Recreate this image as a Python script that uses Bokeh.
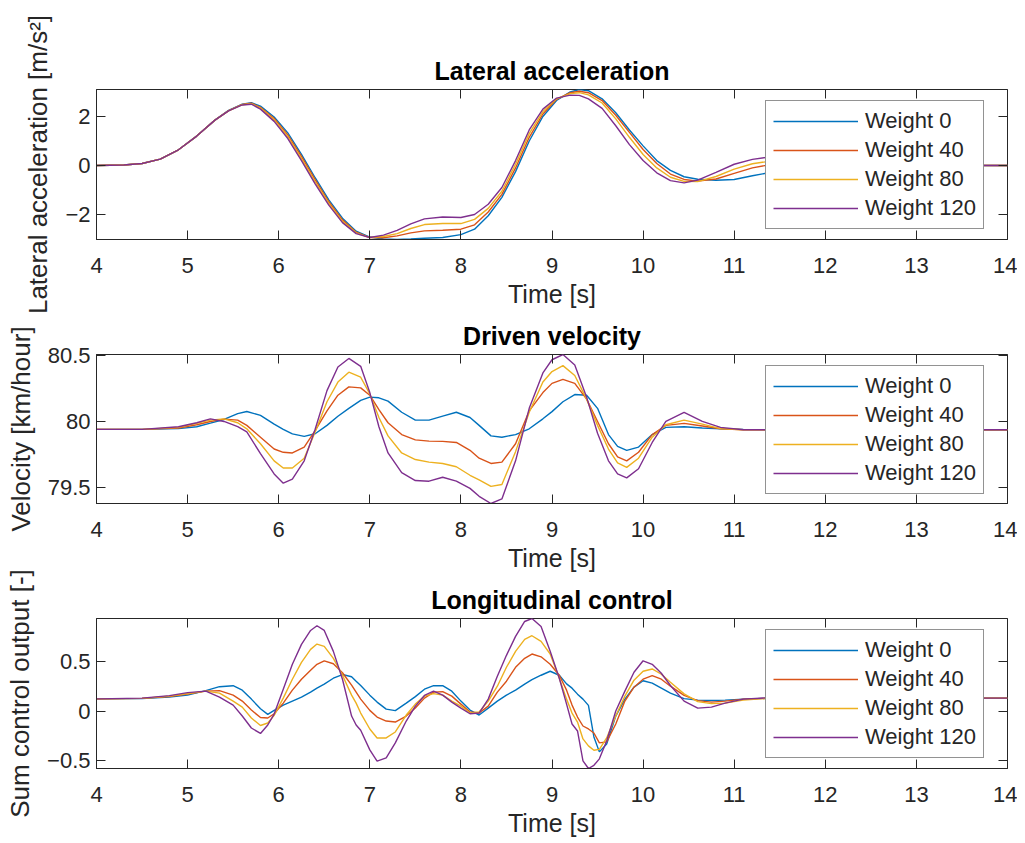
from bokeh.plotting import figure
from bokeh.layouts import column
from bokeh.models import LinearAxis, Legend, LegendItem, FixedTicker, Range1d, ColumnDataSource
from bokeh.embed import file_html
from bokeh.resources import INLINE

# ---------------- data ----------------
labels = ["Weight 0", "Weight 40", "Weight 80", "Weight 120"]
colors = ["#0072BD", "#D95319", "#EDB120", "#7E2F8E"]
x_ticks = [4, 5, 6, 7, 8, 9, 10, 11, 12, 13, 14]

# Lateral acceleration [m/s^2]
t1 = [4.0, 4.3, 4.5, 4.7, 4.9, 5.1, 5.3, 5.45, 5.6, 5.7, 5.8, 5.95, 6.1, 6.25, 6.4, 6.55,
      6.7, 6.85, 7.0, 7.15, 7.3, 7.45, 7.6, 7.8, 8.0, 8.15, 8.3, 8.45, 8.6, 8.75, 8.9, 9.05,
      9.2, 9.3, 9.4, 9.55, 9.7, 9.85, 10.0, 10.15, 10.3, 10.45, 10.6, 10.8, 11.0, 11.2, 11.4,
      11.7, 12.0, 12.5, 13.0, 14.0]
acc_w0 = [0.0, 0.02, 0.08, 0.26, 0.64, 1.2, 1.85, 2.25, 2.5, 2.56, 2.42, 1.98, 1.33, 0.45, -0.5, -1.4,
          -2.15, -2.68, -2.92, -3.0, -3.02, -3.0, -2.97, -2.94, -2.82, -2.6, -2.05, -1.3, -0.25, 1.0, 2.0, 2.65,
          3.0, 3.1, 3.05, 2.72, 2.15, 1.45, 0.8, 0.2, -0.2, -0.46, -0.56, -0.6, -0.57, -0.42, -0.28,
          -0.12, -0.05, -0.01, 0.0, 0.0]
acc_w40 = [0.0, 0.02, 0.08, 0.26, 0.64, 1.2, 1.85, 2.24, 2.49, 2.54, 2.37, 1.92, 1.25, 0.37, -0.58, -1.48,
           -2.22, -2.72, -2.94, -2.95, -2.87, -2.75, -2.67, -2.64, -2.6, -2.42, -1.9, -1.18, -0.1, 1.15, 2.1, 2.7,
           2.97, 3.03, 2.97, 2.65, 2.05, 1.35, 0.65, 0.08, -0.35, -0.57, -0.64, -0.55, -0.32, -0.1, 0.04,
           0.1, 0.08, 0.03, 0.01, 0.0]
acc_w80 = [0.0, 0.02, 0.08, 0.26, 0.64, 1.2, 1.85, 2.23, 2.48, 2.52, 2.34, 1.86, 1.18, 0.28, -0.67, -1.55,
           -2.28, -2.75, -2.94, -2.9, -2.78, -2.57, -2.41, -2.37, -2.37, -2.2, -1.75, -1.05, 0.05, 1.3, 2.2, 2.72,
           2.93, 2.97, 2.88, 2.55, 1.9, 1.15, 0.45, -0.1, -0.48, -0.65, -0.66, -0.45, -0.15, 0.07, 0.18,
           0.2, 0.14, 0.04, 0.01, 0.0]
acc_w120 = [0.0, 0.02, 0.08, 0.26, 0.64, 1.2, 1.85, 2.23, 2.47, 2.5, 2.3, 1.8, 1.1, 0.2, -0.75, -1.62,
            -2.33, -2.78, -2.94, -2.84, -2.65, -2.38, -2.18, -2.1, -2.12, -2.0, -1.58, -0.9, 0.2, 1.45, 2.3, 2.75,
            2.87, 2.86, 2.72, 2.33, 1.62, 0.85, 0.2, -0.3, -0.62, -0.71, -0.6, -0.28, 0.05, 0.25, 0.35,
            0.33, 0.22, 0.07, 0.01, 0.0]

# Driven velocity [km/hour]
t2 = [4.0, 4.5, 4.9, 5.1, 5.25, 5.4, 5.55, 5.65, 5.8, 5.95, 6.05, 6.15, 6.28, 6.4, 6.53, 6.65,
      6.77, 6.9, 7.0, 7.1, 7.2, 7.35, 7.5, 7.65, 7.8, 7.95, 8.1, 8.2, 8.33, 8.45, 8.6, 8.75,
      8.9, 9.0, 9.12, 9.25, 9.38, 9.5, 9.62, 9.72, 9.82, 9.95, 10.1, 10.25, 10.45, 10.65, 10.85,
      11.1, 11.4, 12.0, 14.0]
vel_w0 = [79.94, 79.94, 79.945, 79.96, 79.987, 80.015, 80.06, 80.076, 80.046, 79.98, 79.94, 79.905, 79.886, 79.906, 79.97, 80.04,
          80.1, 80.16, 80.185, 80.18, 80.155, 80.07, 80.01, 80.01, 80.04, 80.07, 80.03, 79.97, 79.89, 79.88, 79.9, 79.944,
          80.02, 80.075, 80.15, 80.205, 80.2, 80.1, 79.9, 79.81, 79.78, 79.805, 79.9, 79.955, 79.96, 79.95, 79.944,
          79.94, 79.937, 79.937, 79.937]
vel_w40 = [79.94, 79.94, 79.95, 79.975, 80.0, 80.018, 80.01, 79.97, 79.88, 79.79, 79.765, 79.76, 79.805, 79.93, 80.08, 80.2,
           80.263, 80.256, 80.2, 80.09, 79.99, 79.9, 79.86, 79.85, 79.848, 79.84, 79.78, 79.72, 79.68, 79.69, 79.83, 80.08,
           80.22, 80.29, 80.32, 80.29, 80.17, 80.0, 79.83, 79.73, 79.7, 79.765, 79.9, 79.97, 79.985, 79.965, 79.944,
           79.937, 79.937, 79.937, 79.937]
vel_w80 = [79.94, 79.94, 79.955, 79.985, 80.01, 80.02, 79.99, 79.944, 79.83, 79.7, 79.645, 79.645, 79.72, 79.92, 80.15, 80.3,
           80.375, 80.337, 80.21, 80.03, 79.89, 79.76, 79.71, 79.69, 79.68, 79.655, 79.59, 79.555, 79.505, 79.52, 79.77, 80.07,
           80.3, 80.38, 80.425, 80.35, 80.17, 79.97, 79.79, 79.685, 79.65, 79.72, 79.88, 79.975, 80.01, 79.98, 79.945,
           79.937, 79.937, 79.937, 79.937]
vel_w120 = [79.94, 79.94, 79.96, 79.99, 80.02, 80.0, 79.96, 79.92, 79.755, 79.6, 79.53, 79.56, 79.7, 79.94, 80.235, 80.415,
            80.48, 80.42, 80.22, 79.96, 79.76, 79.61, 79.55, 79.545, 79.575, 79.545, 79.49, 79.43, 79.375, 79.41, 79.7, 80.1,
            80.37, 80.47, 80.51, 80.43, 80.185, 79.91, 79.7, 79.6, 79.57, 79.64, 79.84, 80.0, 80.07, 80.0, 79.955,
            79.937, 79.937, 79.937, 79.937]

# Longitudinal control (sum control output [-])
t3 = [4.0, 4.5, 4.8, 5.0, 5.2, 5.35, 5.5, 5.6, 5.7, 5.8, 5.88, 5.95, 6.05, 6.15, 6.25, 6.35, 6.42,
      6.5, 6.6, 6.7, 6.8, 6.85, 6.9, 7.0, 7.08, 7.18, 7.28, 7.4, 7.5, 7.6, 7.7, 7.8, 7.9, 8.0,
      8.1, 8.2, 8.3, 8.4, 8.5, 8.6, 8.7, 8.78, 8.88, 8.98, 9.08, 9.16, 9.22, 9.28, 9.34, 9.4,
      9.46, 9.52, 9.6, 9.7, 9.8, 9.9, 10.0, 10.1, 10.2, 10.3, 10.45, 10.6, 10.75, 10.9, 11.1,
      11.4, 12.0, 14.0]
ctl_w0 = [0.123, 0.125, 0.14, 0.16, 0.205, 0.245, 0.255, 0.21, 0.12, 0.023, -0.033, 0.007, 0.06, 0.1, 0.14, 0.19, 0.23,
          0.27, 0.33, 0.367, 0.345, 0.3, 0.257, 0.16, 0.09, 0.02, 0.005, 0.08, 0.145, 0.22, 0.255, 0.255, 0.2, 0.1,
          0.01, -0.04, 0.03, 0.1, 0.16, 0.21, 0.27, 0.315, 0.36, 0.4, 0.36, 0.273, 0.23, 0.17, 0.12, 0.057,
          -0.26, -0.41, -0.33, -0.05, 0.12, 0.24, 0.305, 0.28, 0.23, 0.18, 0.125, 0.11, 0.106, 0.11, 0.12,
          0.13, 0.13, 0.13]
ctl_w40 = [0.123, 0.128, 0.145, 0.17, 0.2, 0.205, 0.16, 0.1, 0.01, -0.065, -0.07, -0.027, 0.08, 0.21, 0.32, 0.41, 0.47,
           0.505, 0.475, 0.385, 0.26, 0.19, 0.12, 0.007, -0.06, -0.1, -0.11, -0.05, 0.03, 0.13, 0.19, 0.195, 0.15, 0.07,
           -0.01, -0.02, 0.05, 0.19, 0.3, 0.44, 0.53, 0.573, 0.545, 0.47, 0.36, 0.21, 0.06, -0.06, -0.15, -0.18,
           -0.22, -0.32, -0.31, -0.13, 0.1, 0.24, 0.32, 0.357, 0.32, 0.25, 0.157, 0.105, 0.09, 0.1, 0.12,
           0.13, 0.13, 0.13]
ctl_w80 = [0.123, 0.128, 0.15, 0.175, 0.2, 0.18, 0.1, 0.04, -0.07, -0.145, -0.12, -0.043, 0.13, 0.32, 0.49, 0.62, 0.673,
           0.65, 0.53, 0.36, 0.16, 0.08, -0.02, -0.18, -0.27, -0.27, -0.21, -0.04, 0.07, 0.15, 0.175, 0.16, 0.1, 0.05,
           -0.02, -0.01, 0.1, 0.25, 0.44, 0.6, 0.72, 0.757, 0.7, 0.573, 0.33, 0.12, -0.02, -0.11, -0.28, -0.35,
           -0.393, -0.385, -0.27, -0.05, 0.15, 0.31, 0.4, 0.423, 0.37, 0.29, 0.173, 0.095, 0.075, 0.08, 0.11,
           0.13, 0.13, 0.13]
ctl_w120 = [0.123, 0.13, 0.155, 0.185, 0.2, 0.14, 0.06, -0.05, -0.17, -0.225, -0.14, -0.03, 0.22, 0.47, 0.67, 0.81, 0.857,
            0.81, 0.6, 0.32, -0.05, -0.14, -0.193, -0.39, -0.503, -0.47, -0.32, -0.1, 0.05, 0.157, 0.2, 0.16, 0.09, 0.03,
            -0.027, -0.02, 0.12, 0.35, 0.56, 0.75, 0.9, 0.93, 0.85, 0.6, 0.33, 0.07, -0.13, -0.2, -0.5, -0.577,
            -0.545, -0.48, -0.3, 0.0, 0.2, 0.39, 0.505, 0.47, 0.38, 0.257, 0.1, 0.03, 0.04, 0.08, 0.12,
            0.135, 0.13, 0.13]

# ---------------- styling ----------------
FONT = "Liberation Sans"
AXC = "#262626"


def make_panel(title, ylabel, t, series, yr, yticks, height, top, bottom, leg_y, margin_top):
    p = figure(width=1017, height=height, output_backend="svg", toolbar_location=None,
               x_range=Range1d(4, 14), y_range=Range1d(*yr),
               min_border_left=96, min_border_right=10, min_border_top=top, min_border_bottom=bottom)
    if margin_top:
        p.margin = (margin_top, 0, 0, 0)
    p.title.text = title
    p.title.align = "center"
    p.title.text_font = FONT
    p.title.text_font_size = "25px"
    p.title.text_font_style = "bold"
    p.title.text_color = "#000000"
    p.title.standoff = 10
    p.grid.visible = False
    p.outline_line_color = AXC
    p.outline_line_width = 1
    p.background_fill_color = "white"
    p.border_fill_alpha = 0.0

    xa = p.xaxis[0]
    xa.ticker = FixedTicker(ticks=x_ticks)
    xa.axis_label = "Time [s]"
    ya = p.yaxis[0]
    ya.ticker = FixedTicker(ticks=yticks)
    ya.axis_label = ylabel
    for ax in (xa, ya):
        ax.axis_line_color = AXC
        ax.major_tick_line_color = AXC
        ax.major_tick_in = 9
        ax.major_tick_out = 0
        ax.minor_tick_line_color = None
        ax.major_label_text_font = FONT
        ax.major_label_text_font_size = "22px"
        ax.major_label_text_color = AXC
        ax.axis_label_text_font = FONT
        ax.axis_label_text_font_style = "normal"
        ax.axis_label_text_color = AXC
    xa.axis_label_text_font_size = "25px"
    ya.axis_label_text_font_size = "26px"
    xa.major_label_standoff = 18
    xa.axis_label_standoff = 4
    ya.major_label_standoff = 6
    ya.axis_label_standoff = 9

    for loc, tk in (("above", x_ticks), ("right", yticks)):
        ax = LinearAxis(ticker=FixedTicker(ticks=tk), major_label_text_font_size="1px",
                        major_label_text_color=None, major_label_standoff=0,
                        axis_line_color=None, major_tick_in=9,
                        major_tick_out=0, minor_tick_line_color=None, major_tick_line_color=AXC)
        p.add_layout(ax, loc)

    src = ColumnDataSource(dict(t=t, **{f"s{i}": s for i, s in enumerate(series)}))
    items = []
    for i, (lab, col) in enumerate(zip(labels, colors)):
        r = p.line("t", f"s{i}", source=src, line_color=col, line_width=1.4)
        items.append(LegendItem(label=lab, renderers=[r]))
    leg = Legend(items=items, location=(669, leg_y), glyph_width=85, glyph_height=20,
                 label_height=20, spacing=3, padding=7, margin=0, label_standoff=7,
                 label_text_font=FONT, label_text_font_size="22px", label_text_color=AXC,
                 border_line_color=AXC, border_line_width=1, background_fill_color="white",
                 background_fill_alpha=1.0)
    p.add_layout(leg, "center")
    return p


p1 = make_panel("Lateral acceleration", "Lateral acceleration [m/s²]", t1,
                [acc_w0, acc_w40, acc_w80, acc_w120], (-3.02, 3.1), [-2, 0, 2],
                319, 89, 80, 10, 0)
p2 = make_panel("Driven velocity", "Velocity [km/hour]", t2,
                [vel_w0, vel_w40, vel_w80, vel_w120], (79.375, 80.51), [79.5, 80, 80.5],
                270, 41, 80, 9, -6)
p3 = make_panel("Longitudinal control", "Sum control output [-]", t3,
                [ctl_w0, ctl_w40, ctl_w80, ctl_w120], (-0.577, 0.93), [-0.5, 0, 0.5],
                274, 50, 74, 10, -15)

layout = column(p1, p2, p3, spacing=0)
open("out.html", "w").write(file_html(layout, INLINE))
